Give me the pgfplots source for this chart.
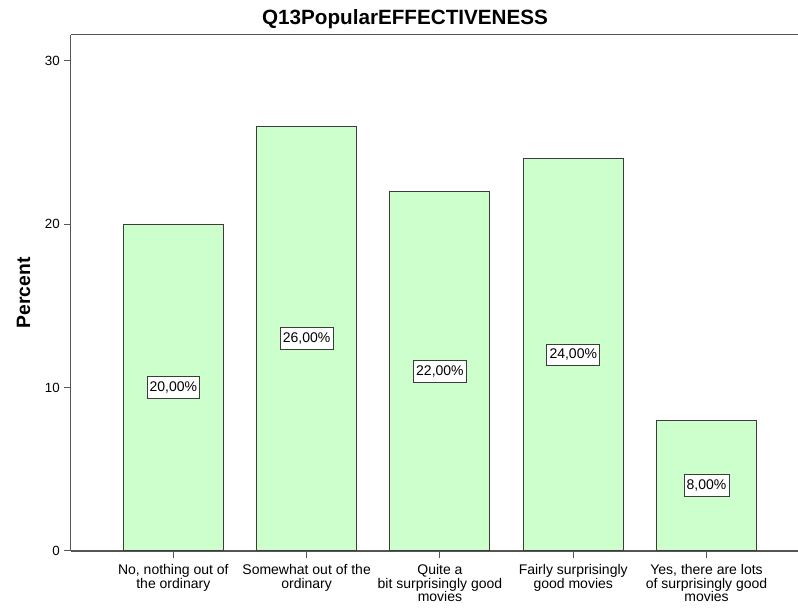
\documentclass[border=0pt]{standalone}
\usepackage{fontspec}
\setmainfont{Liberation Sans}
\usepackage{pgfplots}
\usepackage{pgfplotstable}
\pgfplotsset{compat=1.18}
\definecolor{barfill}{RGB}{204,255,204}
\definecolor{baredge}{RGB}{60,60,60}
\definecolor{axisgray}{RGB}{85,85,85}

% percent per answer
\pgfplotstableread{
x y
0 20
1 26
2 22
3 24
4 8
}\freq

\begin{document}
\begin{tikzpicture}
\begin{axis}[
  scale only axis,
  width=545.5pt, height=387.2pt,
  xmin=-0.77, xmax=4.686,
  ymin=0, ymax=31.6,
  axis x line*=box, axis y line*=left,
  axis line style={axisgray, line width=0.9pt, -},
  tick pos=left,
  tick align=outside,
  major tick length=5pt,
  tick style={axisgray, line width=0.75pt},
  xtick={0,1,2,3,4},
  xticklabels={
    {No, nothing out of\\the ordinary},
    {Somewhat out of the\\ordinary},
    {Quite a\\bit surprisingly good\\movies},
    {Fairly surprisingly\\good movies},
    {Yes, there are lots\\of surprisingly good\\movies}},
  xticklabel style={align=center, font=\fontsize{10.5}{10}\selectfont, inner sep=1pt, yshift=-4pt},
  ytick={0,10,20,30},
  yticklabel style={font=\fontsize{10}{12}\selectfont, inner sep=3pt},
  /pgf/number format/assume math mode=true,
  title={Q13PopularEFFECTIVENESS},
  title style={font=\fontsize{15.5}{18}\selectfont\bfseries,
    at={(axis description cs:0.4597,1)}, anchor=base, yshift=2pt},
  ylabel={Percent},
  ylabel style={font=\fontsize{14.5}{17}\selectfont\bfseries,
    at={(axis description cs:-0.0647,0.5)}, anchor=center},
]
\addplot[ybar, bar width=75pt, fill=barfill, draw=baredge, line width=0.75pt]
  table[x=x, y=y] {\freq};
\addplot[draw=none, mark=none,
  point meta=\thisrow{y},
  nodes near coords={\pgfmathprintnumber[fixed, fixed zerofill, precision=2, use comma]{\pgfplotspointmeta}\%},
  every node near coord/.append style={anchor=center, draw=baredge, fill=white,
    line width=0.6pt, font=\fontsize{10.5}{12}\selectfont, inner xsep=2pt, inner ysep=3.8pt}]
  table[x=x, y expr=\thisrow{y}/2] {\freq};
\end{axis}
\pgfresetboundingbox
\useasboundingbox (-53pt,-42.75pt) rectangle (545.5pt,413.2pt);
\end{tikzpicture}
\end{document}
